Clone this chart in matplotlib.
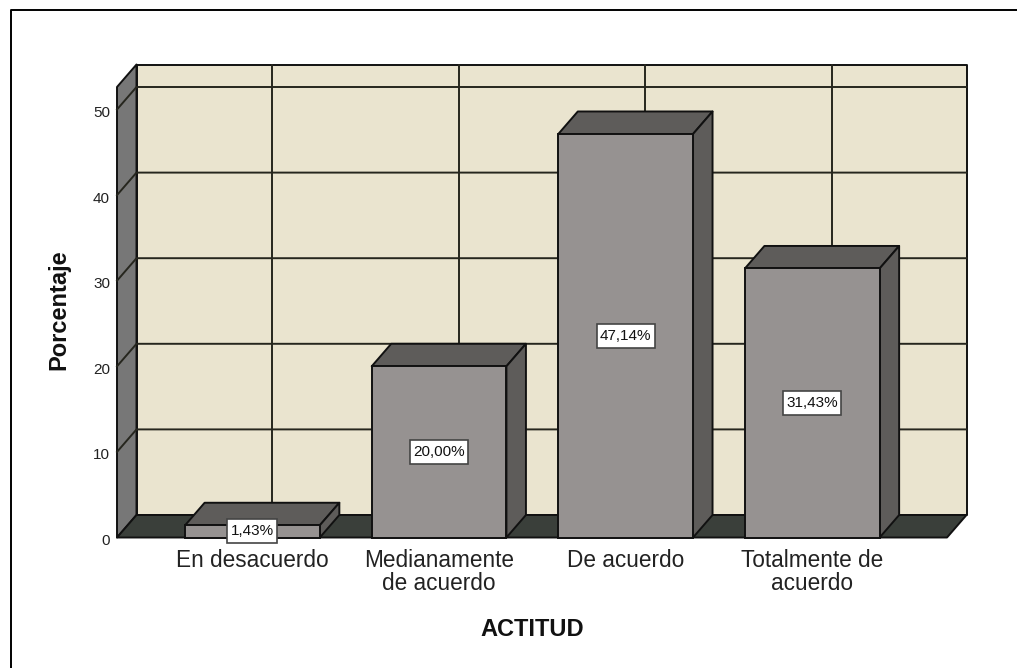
import matplotlib
matplotlib.use("Agg")
import matplotlib.pyplot as plt
from matplotlib.lines import Line2D
from matplotlib.patches import Polygon, Rectangle
from matplotlib.transforms import ScaledTranslation

plt.rcParams['font.family'] = ['Liberation Sans', 'DejaVu Sans']

categories = ['En desacuerdo', 'Medianamente\nde acuerdo', 'De acuerdo', 'Totalmente de\nacuerdo']
values = [1.43, 20.00, 47.14, 31.43]
labels = ['1,43%', '20,00%', '47,14%', '31,43%']
y_ticks = [0, 10, 20, 30, 40, 50]

W, H = 1017, 668
wall_color = '#EAE4CF'
side_color = '#777777'
floor_color = '#3A3F3A'
front_color = '#969291'
shade_color = '#5E5C5A'
edge = '#111111'
lw = 1.4

px_per_cat = 186.6
px_per_unit = 8.56

fig = plt.figure(figsize=(W / 100, H / 100), dpi=100, facecolor='white')

# outer frame only shows on the left and top
fig.add_artist(Line2D([10.5 / W, 10.5 / W, 1], [0, 1 - 10 / H, 1 - 10 / H], color='black', lw=1.4))

ax = fig.add_axes([117 / W, (H - 537.5) / H, 830 / W, 450.5 / H])
ax.set_xlim(-0.726, 3.722)
ax.set_ylim(0, 450.5 / px_per_unit)
y_top = ax.get_ylim()[1]
x_left, x_right = ax.get_xlim()

# depth of the fake 3d box, in data units
dx = 19.5 / px_per_cat
dy = 22.5 / px_per_unit
bar_w = 0.722


def face(pts, color, z):
    ax.add_patch(Polygon(pts, closed=True, facecolor=color, edgecolor=edge, lw=lw, zorder=z, clip_on=False, joinstyle='round'))


# back wall, left wall, floor
face([(x_left + dx, dy), (x_right + dx, dy), (x_right + dx, y_top + dy), (x_left + dx, y_top + dy)], wall_color, 1)
face([(x_left, 0), (x_left + dx, dy), (x_left + dx, y_top + dy), (x_left, y_top)], side_color, 1)
face([(x_left, 0), (x_right, 0), (x_right + dx, dy), (x_left + dx, dy)], floor_color, 1)

# grid lines
grid_style = dict(color='#26261E', lw=1.4, zorder=2, clip_on=False)
for t in y_ticks[1:]:
    ax.plot([x_left, x_left + dx, x_right + dx], [t, t + dy, t + dy], **grid_style)
for i in range(len(categories)):
    ax.plot([i + dx, i + dx], [dy, y_top + dy], **grid_style)

# bars
positions = list(range(len(categories)))
ax.bar(positions, values, width=bar_w, color=front_color, edgecolor=edge, linewidth=lw, zorder=4, clip_on=False)
for i, v in enumerate(values):
    l, r = i - bar_w / 2, i + bar_w / 2
    face([(l, v), (r, v), (r + dx, v + dy), (l + dx, v + dy)], shade_color, 3)
    face([(r, 0), (r + dx, dy), (r + dx, v + dy), (r, v)], shade_color, 3)
    # value box, taller than a text bbox would be
    box_w = (8 * len(labels[i]) + 10) / px_per_cat
    box_h = 24 / px_per_unit
    ax.add_patch(Rectangle((i - box_w / 2, v / 2 - box_h / 2), box_w, box_h, facecolor='white', edgecolor='#444444',
                           lw=1.2, zorder=5, clip_on=False))
    ax.text(i, v / 2, labels[i], ha='center', va='center', fontsize=11, color='#111111', zorder=6)

ax.set_xticks(positions)
ax.set_xticklabels(categories, fontsize=16.3, color='#222222', linespacing=1.0)
ax.set_yticks(y_ticks)
ax.set_yticklabels([str(t) for t in y_ticks], fontsize=11, color='#222222')
ax.tick_params(axis='both', length=0)
ax.tick_params(axis='x', pad=8.5)
ax.tick_params(axis='y', pad=5)
for lab in ax.get_yticklabels():
    lab.set_transform(lab.get_transform() + ScaledTranslation(0, -2 / 100, fig.dpi_scale_trans))
for s in ax.spines.values():
    s.set_visible(False)
ax.patch.set_visible(False)

fig.text(59 / W, 1 - 310 / H, 'Porcentaje', rotation=90, ha='center', va='center', fontsize=17, fontweight='bold', color='#111111')
fig.text(532.5 / W, 1 - 629 / H, 'ACTITUD', ha='center', va='center', fontsize=17, fontweight='bold', color='#111111')

fig.savefig('out.png', dpi=100, facecolor='white')
